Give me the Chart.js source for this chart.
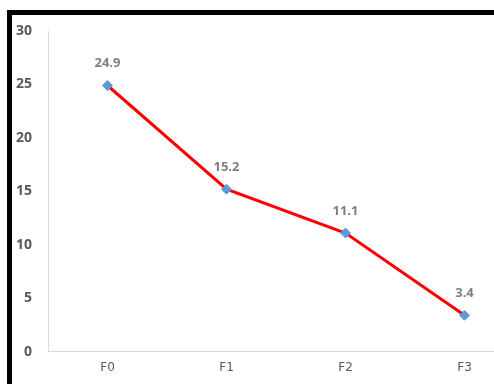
<!DOCTYPE html>
<html>
<head>
<meta charset="utf-8">
<script src="https://cdn.jsdelivr.net/npm/chart.js@4.4.0/dist/chart.umd.min.js"></script>
<style>
    html, body { margin: 0; padding: 0; background: #fff; overflow: hidden; width: 494px; height: 384px; }
    #frame { position: absolute; left: 7px; top: 10px; width: 600px; height: 374px; border-top: 5px solid #000; border-left: 5px solid #000; }
    #box { position: absolute; left: 0; top: 0; width: 512px; height: 369px; }
</style>
</head>
<body>
<div id="frame"><div id="box"><canvas id="lineChart"></canvas></div></div>
<script>
var categories = ['F0', 'F1', 'F2', 'F3'];
var values = [24.9, 15.2, 11.1, 3.4];
var yTicks = [0, 5, 10, 15, 20, 25, 30];

// draws the value above each point
var pointLabels = {
    id: 'pointLabels',
    afterDatasetsDraw: function (chart) {
        var ctx = chart.ctx;
        var meta = chart.getDatasetMeta(0);
        ctx.save();
        ctx.font = 'bold 13px "Open Sans", sans-serif';
        ctx.fillStyle = '#7f7f7f';
        ctx.textAlign = 'center';
        ctx.textBaseline = 'middle';
        meta.data.forEach(function (pt, i) {
            ctx.fillText(values[i].toFixed(1), pt.x, pt.y - 22);
        });
        ctx.restore();
    }
};

new Chart(document.getElementById('lineChart'), {
    type: 'line',
    data: {
        labels: categories,
        datasets: [{
            data: values,
            borderColor: '#ff0000',
            borderWidth: 3,
            pointStyle: 'rectRot',
            pointRadius: 5,
            pointBackgroundColor: '#5b9bd5',
            pointBorderColor: '#5b9bd5',
            pointBorderWidth: 1,
            tension: 0
        }]
    },
    options: {
        responsive: true,
        maintainAspectRatio: false,
        animation: false,
        layout: { autoPadding: false, padding: { left: 3, top: 0, right: 0, bottom: 0 } },
        plugins: {
            legend: { display: false },
            tooltip: { enabled: false }
        },
        scales: {
            x: {
                offset: true,
                grid: { display: false, drawTicks: false },
                border: { display: true, color: '#d9d9d9', width: 1 },
                ticks: {
                    color: '#595959',
                    padding: 9,
                    font: { family: '"DejaVu Sans", sans-serif', size: 12 }
                }
            },
            y: {
                min: 0,
                max: 30,
                afterBuildTicks: function (axis) {
                    axis.ticks = yTicks.map(function (v) { return { value: v }; });
                },
                afterFit: function (axis) {
                    axis.width = 33;
                    axis.paddingTop = 16;
                    axis.paddingBottom = 0;
                },
                grid: { display: false, drawTicks: false },
                border: { display: true, color: '#d9d9d9', width: 1 },
                ticks: {
                    color: '#595959',
                    padding: 16,
                    font: { family: '"Open Sans", sans-serif', size: 14, weight: 'bold' }
                }
            }
        }
    },
    plugins: [pointLabels]
});
</script>
</body>
</html>
